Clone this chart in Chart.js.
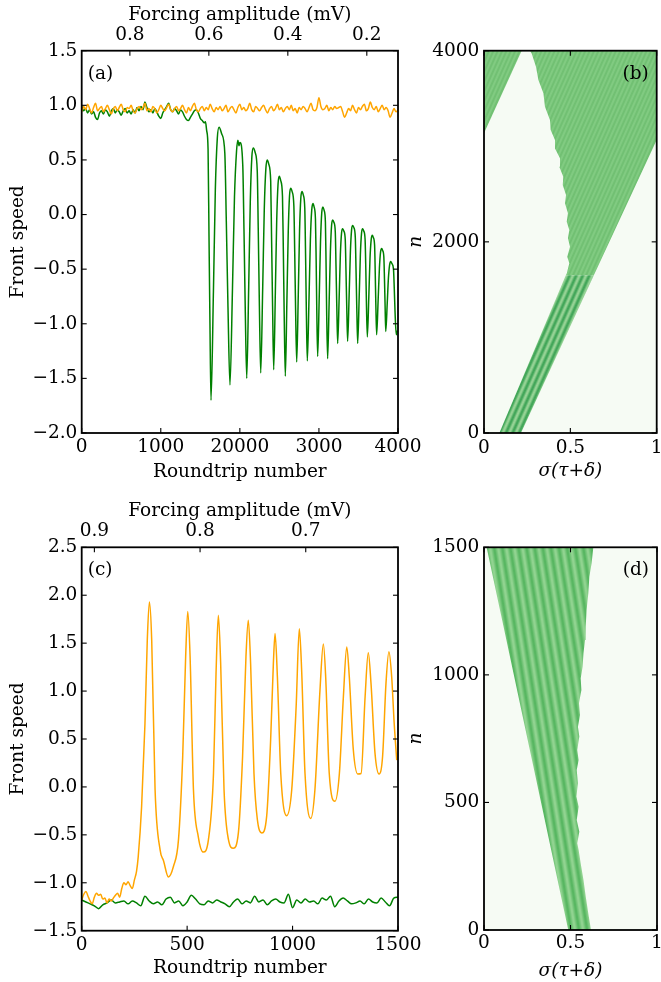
<!DOCTYPE html>
<html>
<head>
<meta charset="utf-8">
<script src="https://cdn.jsdelivr.net/npm/chart.js@4.4.1/dist/chart.umd.min.js"></script>
<style>
  html, body { margin: 0; padding: 0; background: #fff; overflow: hidden; width: 661px; height: 982px; }
  canvas { position: absolute; }
</style>
</head>
<body>
<canvas id="cvA" width="430" height="490" style="left:0;top:0"></canvas>
<canvas id="cvB" width="270" height="490" style="left:400px;top:0"></canvas>
<canvas id="cvC" width="430" height="492" style="left:0;top:490px"></canvas>
<canvas id="cvD" width="270" height="492" style="left:400px;top:490px"></canvas>
<script>
// ---------- panel (a): front speed vs roundtrip ----------
const aOrangeRound = [
  0,25,50,75,100,125,150,175,200,225,
  250,275,300,325,350,375,400,425,450,475,
  500,525,550,575,600,625,650,675,700,725,
  750,775,800,825,850,875,900,925,950,975,
  1000,1025,1050,1075,1100,1125,1150,1175,1200,1225,
  1250,1275,1300,1325,1350,1375,1400,1425,1450,1475,
  1500,1525,1550,1575,1600,1625,1650,1675,1700,1725,
  1750,1775,1800,1825,1850,1875,1900,1925,1950,1975,
  2000,2025,2050,2075,2100,2125,2150,2175,2200,2225,
  2250,2275,2300,2325,2350,2375,2400,2425,2450,2475,
  2500,2525,2550,2575,2600,2625,2650,2675,2700,2725,
  2750,2775,2800,2825,2850,2875,2900,2925,2950,2975,
  3000,3025,3050,3075,3100,3125,3150,3175,3200,3225,
  3250,3275,3300,3325,3350,3375,3400,3425,3450,3475,
  3500,3525,3550,3575,3600,3625,3650,3675,3700,3725,
  3750,3775,3800,3825,3850,3875,3900,3925,3950,3975,4000
];
const aOrangeSpeed = [
  0.94,0.99,0.96,1.01,0.97,0.93,0.98,1.02,0.95,0.97,
  0.99,0.94,0.97,1.00,0.96,0.92,0.97,0.99,0.95,0.98,
  1.01,0.96,0.94,0.98,0.97,1.00,0.95,0.93,0.97,0.99,
  0.96,0.98,1.02,0.95,0.97,0.94,0.99,0.97,0.93,0.96,
  1.00,0.97,0.95,0.98,1.01,0.96,0.94,0.97,0.99,0.95,
  0.97,1.00,0.96,0.93,0.98,0.95,0.99,1.02,0.96,0.94,
  0.97,0.99,0.95,0.98,0.96,1.01,0.97,0.94,0.98,0.96,
  0.99,0.95,0.97,1.00,0.94,0.97,0.99,0.96,0.93,0.98,
  1.01,0.96,0.98,0.95,0.97,1.02,0.96,0.94,0.99,0.97,
  0.95,0.98,1.00,0.96,0.93,0.97,0.99,0.95,0.97,1.01,
  0.96,0.98,0.94,0.97,0.99,0.96,1.00,0.95,0.97,0.93,
  0.98,0.96,0.99,0.97,0.94,0.98,1.02,0.96,0.95,0.98,
  1.07,0.99,0.96,0.97,1.00,0.95,0.98,0.96,0.99,0.97,
  0.98,0.99,0.94,0.89,0.93,0.97,0.95,1.00,0.96,0.93,
  0.98,0.96,0.99,1.01,0.95,0.97,1.03,0.98,0.96,0.99,
  0.94,0.97,1.00,0.96,0.98,0.95,0.89,0.93,0.97,0.94,0.96
];
const aGreenRound = [
  0,25,50,75,100,125,150,175,200,225,250,275,300,325,350,375,400,425,450,475,
  500,525,550,575,600,625,650,675,700,725,750,775,800,825,850,875,900,925,950,975,
  1000,1025,1050,1075,1100,1125,1150,1175,1200,1225,1250,1275,1300,1325,1350,1375,
  1400,1425,1450,1475,1500,1525,1550,1565,1580,1598,1610,1622,1635,
  1666,1690,1715,1737,1770,1810,1829,1850,1875,
  1907,1932,1958,1975,1989,2001,2037,2052,2068,2087,
  2112,2132,2152,2170,2193,2220,2233,2247,2264,
  2289,2309,2329,2347,2366,2390,2401,2414,2428,
  2449,2466,2483,2499,2517,2539,2550,2561,2575,
  2595,2612,2628,2643,2661,2683,2694,2705,2719,
  2739,2755,2771,2786,2802,2821,2831,2841,2853,
  2875,2892,2909,2925,2939,2956,2965,2973,2984,
  3004,3020,3036,3051,3065,3082,3090,3098,3110,
  3129,3145,3160,3174,3189,3207,3216,3226,3237,
  3256,3271,3286,3300,3315,3333,3342,3352,3363,
  3382,3398,3413,3427,3442,3460,3469,3479,3490,
  3509,3524,3539,3553,3567,3584,3593,3601,3612,
  3631,3646,3661,3675,3688,3704,3712,3720,3730,
  3749,3765,3780,3794,3806,3821,3829,3837,3845,
  3864,3879,3894,3908,3924,3943,3953,3963,3978,3988
];
const aGreenSpeed = [
  0.99,0.95,0.97,0.93,0.96,0.92,0.94,0.89,0.87,0.93,0.95,0.92,0.96,0.94,0.90,0.95,0.97,0.93,0.96,0.94,
  0.91,0.95,0.97,0.93,0.95,0.92,0.96,0.93,0.98,0.95,0.99,0.96,1.03,0.98,0.94,0.96,0.93,0.97,0.94,0.90,
  0.88,0.93,0.96,0.99,1.02,0.96,0.94,0.97,0.95,0.92,0.96,0.94,0.90,0.87,0.86,0.89,
  0.92,0.95,0.96,0.93,0.88,0.86,0.84,0.85,0.77,0.60,-0.20,-1.00,-1.70,
  -0.70,0.23,0.70,0.80,0.74,0.56,-0.07,-0.85,-1.56,
  -0.67,0.16,0.58,0.68,0.63,0.66,0.45,-0.13,-0.85,-1.50,
  -0.66,0.12,0.53,0.61,0.57,0.40,-0.15,-0.83,-1.45,
  -0.67,0.05,0.42,0.50,0.46,0.31,-0.21,-0.84,-1.42,
  -0.71,-0.06,0.28,0.35,0.31,0.17,-0.33,-0.93,-1.48,
  -0.79,-0.16,0.17,0.24,0.21,0.08,-0.35,-0.87,-1.35,
  -0.73,-0.15,0.15,0.21,0.18,0.06,-0.36,-0.88,-1.34,
  -0.76,-0.23,0.04,0.10,0.07,-0.04,-0.42,-0.88,-1.30,
  -0.75,-0.25,0.02,0.07,0.04,-0.07,-0.44,-0.90,-1.32,
  -0.81,-0.34,-0.10,-0.05,-0.07,-0.16,-0.47,-0.84,-1.18,
  -0.76,-0.37,-0.17,-0.13,-0.15,-0.23,-0.51,-0.85,-1.16,
  -0.74,-0.34,-0.14,-0.10,-0.12,-0.21,-0.50,-0.86,-1.18,
  -0.76,-0.37,-0.17,-0.13,-0.15,-0.23,-0.50,-0.82,-1.12,
  -0.75,-0.40,-0.23,-0.19,-0.21,-0.28,-0.53,-0.83,-1.10,
  -0.78,-0.49,-0.34,-0.31,-0.33,-0.39,-0.59,-0.84,-1.07,
  -0.81,-0.58,-0.46,-0.43,-0.45,-0.50,-0.68,-0.90,-1.10,-1.06
];
const aSpeedTicks = [-2, -1.5, -1, -0.5, 0, 0.5, 1, 1.5];
const aSpeedLabels = ['−2.0', '−1.5', '−1.0', '−0.5', '0.0', '0.5', '1.0', '1.5'];
const aRoundTicks = [0, 1000, 2000, 3000, 4000];
const aRoundLabels = ['0', '1000', '20000', '3000', '4000'];
const aForceTicks = [0.8, 0.6, 0.4, 0.2];
const aForceLabels = ['0.8', '0.6', '0.4', '0.2'];

// ---------- panel (b): space-time outline of the green region ----------
const bLowerPos = [0.089, 0.474, 0.636, 0.214];
const bLowerRound = [0, 1650, 1650, 0];
const bUpperPos = [0.474, 0.479, 0.494, 0.482, 0.498, 0.486, 0.494, 0.479, 0.486, 0.469, 0.475, 0.456, 0.459,
  0.436, 0.440, 0.411, 0.411, 0.386, 0.382, 0.353, 0.344, 0.315, 0.301, 0.276, 0.266, 1, 1, 0.636];
const bUpperRound = [1650, 1670, 1775, 1845, 1950, 2037, 2124, 2211, 2298, 2403, 2490, 2595, 2682,
  2787, 2874, 2978, 3066, 3170, 3275, 3414, 3554, 3693, 3833, 3972, 4000, 4000, 3065, 1650];
const bWrapPos = [0, 0.218, 0];
const bWrapRound = [3136, 4000, 4000];
const bPosTicks = [0, 0.5, 1];
const bPosLabels = ['0', '0.5', '1'];
const bRoundTicks = [0, 2000, 4000];
const bRoundLabels = ['0', '2000', '4000'];

// ---------- panel (c) ----------
const cOrangeRound = [
  0,10,20,30,40,50,60,70,80,90,100,110,120,130,140,150,160,170,180,190,200,210,220,230,240,250,260,
  268,284,300,311,321,332,348,372,388,411,
  435,459,479,493,503,514,530,553,577,601,
  625,637,648,659,675,696,719,743,763,779,
  790,801,817,833,854,877,896,909,917,928,
  944,972,996,1017,1032,1043,1059,1086,1106,1130,
  1146,1157,1174,1201,1222,1241,1257,1269,1288,1309,
  1325,1344,1359,1372,1391,1410,1427,1443,1457,1470,
  1482,1494
];
const cOrangeSpeed = [
  -1.18,-1.12,-1.09,-1.14,-1.19,-1.22,-1.15,-1.11,-1.13,-1.12,-1.17,-1.16,-1.21,-1.17,-1.19,-1.16,
  -1.13,-1.11,-1.15,-1.06,-1.00,-1.02,-0.99,-1.03,-1.06,-0.97,-0.88,
  -0.73,-0.21,0.66,1.53,1.93,1.53,-0.03,-0.66,-0.77,-0.94,
  -0.83,-0.55,0.32,1.36,1.83,1.36,-0.03,-0.52,-0.68,-0.55,
  0.14,1.18,1.79,1.29,-0.03,-0.55,-0.64,-0.48,0.32,1.36,
  1.74,1.29,0.14,-0.34,-0.48,-0.31,0.49,1.29,1.60,1.15,
  0.14,-0.30,-0.03,0.84,1.65,1.22,0.14,-0.33,-0.03,1.01,
  1.49,1.15,0.14,-0.15,0.14,0.94,1.46,1.15,0.39,0.135,
  0.14,0.94,1.40,1.08,0.35,0.135,0.32,1.08,1.41,1.15,
  0.66,0.28
];
const cGreenRound = [
  0,20,40,60,80,100,120,140,160,180,200,220,240,260,280,300,320,340,360,380,
  400,420,440,460,480,500,520,540,560,580,600,620,640,660,680,700,720,740,760,780,
  800,820,840,860,880,900,920,940,960,980,1000,1020,1040,1060,1080,1100,1120,1140,1160,1180,
  1200,1220,1240,1260,1280,1300,1320,1340,1360,1380,1400,1420,1440,1460,1480,1500
];
const cGreenSpeed = [
  -1.18,-1.20,-1.22,-1.24,-1.27,-1.23,-1.21,-1.18,-1.21,-1.20,-1.19,-1.22,-1.19,-1.21,-1.24,-1.14,-1.19,-1.22,-1.20,-1.23,
  -1.17,-1.15,-1.21,-1.19,-1.24,-1.20,-1.13,-1.17,-1.22,-1.23,-1.19,-1.21,-1.18,-1.20,-1.22,-1.25,-1.20,-1.17,-1.22,-1.19,
  -1.21,-1.14,-1.20,-1.18,-1.23,-1.19,-1.17,-1.20,-1.21,-1.12,-1.26,-1.18,-1.21,-1.17,-1.20,-1.19,-1.22,-1.16,-1.18,-1.14,
  -1.25,-1.19,-1.16,-1.19,-1.22,-1.21,-1.19,-1.22,-1.17,-1.20,-1.21,-1.16,-1.20,-1.24,-1.16,-1.15
];
const cSpeedTicks = [-1.5, -1, -0.5, 0, 0.5, 1, 1.5, 2, 2.5];
const cSpeedLabels = ['−1.5', '−1.0', '−0.5', '0.0', '0.5', '1.0', '1.5', '2.0', '2.5'];
const cRoundTicks = [0, 500, 1000, 1500];
const cRoundLabels = ['0', '500', '1000', '1500'];
const cForceTicks = [0.9, 0.8, 0.7];
const cForceLabels = ['0.9', '0.8', '0.7'];

// ---------- panel (d) ----------
const dPos = [0.487, 0.6185, 0.603, 0.588, 0.575, 0.559, 0.547, 0.539, 0.551, 0.536, 0.547, 0.534, 0.543,
  0.536, 0.547, 0.539, 0.551, 0.543, 0.555, 0.549, 0.563, 0.559, 0.570, 0.575, 0.584, 0.588, 0.593,
  0.603, 0.609, 0.622, 0.632, 0.015];
const dRound = [0, 0, 65, 131, 196, 261, 314, 340, 385, 431, 483, 523, 575,
  627, 666, 706, 758, 797, 843, 889, 941, 987, 1032, 1085, 1137, 1189, 1254,
  1320, 1385, 1437, 1500, 1500];
const dRoundTicks = [0, 500, 1000, 1500];
const dRoundLabels = ['0', '500', '1000', '1500'];

const GREEN = '#008000';
const ORANGE = '#ffa500';
const FIELD = '#f6fbf4';
const FONT_SIZE = 18.5;

Chart.defaults.font.family = 'DejaVu Serif';
Chart.defaults.font.size = FONT_SIZE;
Chart.defaults.color = '#000';

// soft diagonal stripes used to fill the green regions
function stripes(period, light, dark, angle) {
  const tile = document.createElement('canvas');
  tile.width = period;
  tile.height = 4;
  const g = tile.getContext('2d');
  const grad = g.createLinearGradient(0, 0, period, 0);
  grad.addColorStop(0, light);
  grad.addColorStop(0.5, dark);
  grad.addColorStop(1, light);
  g.fillStyle = grad;
  g.fillRect(0, 0, period, 4);
  const pat = g.createPattern(tile, 'repeat');
  pat.setTransform(new DOMMatrix().rotate(angle));
  return pat;
}

// frame, inward tick marks, panel tag and heatmap background
const framePlugin = {
  id: 'frame',
  beforeDatasetsDraw(chart, args, opts) {
    if (!opts.field) return;
    const a = chart.chartArea;
    chart.ctx.save();
    chart.ctx.fillStyle = opts.field;
    chart.ctx.fillRect(a.left, a.top, a.right - a.left, a.bottom - a.top);
    chart.ctx.restore();
  },
  afterDatasetsDraw(chart, args, opts) {
    const {ctx, chartArea: a} = chart;
    const L = 5;
    ctx.save();
    ctx.strokeStyle = '#000';
    ctx.lineWidth = 1.1;
    Object.keys(opts.marks || {}).forEach(id => {
      const s = chart.scales[id];
      opts.marks[id].forEach(side => {
        s.ticks.forEach(t => {
          const p = s.getPixelForValue(t.value);
          ctx.beginPath();
          if (side === 'bottom') { ctx.moveTo(p, a.bottom); ctx.lineTo(p, a.bottom - L); }
          if (side === 'top') { ctx.moveTo(p, a.top); ctx.lineTo(p, a.top + L); }
          if (side === 'left') { ctx.moveTo(a.left, p); ctx.lineTo(a.left + L, p); }
          if (side === 'right') { ctx.moveTo(a.right, p); ctx.lineTo(a.right - L, p); }
          ctx.stroke();
        });
      });
    });
    ctx.lineWidth = 1.8;
    ctx.strokeRect(a.left, a.top, a.right - a.left, a.bottom - a.top);
    ctx.fillStyle = '#000';
    ctx.font = FONT_SIZE + 'px "DejaVu Serif"';
    ctx.textBaseline = 'middle';
    if (opts.tagSide === 'left') {
      ctx.textAlign = 'left';
      ctx.fillText(opts.tag, a.left + 6, a.top + 23);
    } else {
      ctx.textAlign = 'right';
      ctx.fillText(opts.tag, a.right - 8, a.top + 23);
    }
    ctx.restore();
  }
};

function axis(o) {
  const cfg = {
    type: 'linear',
    position: o.position,
    min: o.min,
    max: o.max,
    reverse: !!o.reverse,
    afterFit(s) {
      if (o.position === 'left') s.width = o.size; else s.height = o.size;
    },
    afterBuildTicks(s) {
      s.ticks = o.ticks.map(v => ({value: v}));
    },
    grid: {display: false, drawTicks: false},
    border: {display: false},
    ticks: {autoSkip: false, maxRotation: 0, padding: o.pad, callback: (v, i) => o.labels[i]},
    title: {display: true, text: o.title, padding: o.titlePad}
  };
  if (o.italic) cfg.title.font = {style: 'italic'};
  return cfg;
}

function trace(xs, ys, color) {
  return {
    data: xs.map((x, i) => ({x: x, y: ys[i]})),
    borderColor: color,
    borderWidth: 1.5,
    pointRadius: 0,
    fill: false,
    cubicInterpolationMode: 'monotone'
  };
}

function patch(xs, ys, pattern) {
  return {
    data: xs.map((x, i) => ({x: x, y: ys[i]})),
    borderColor: 'rgba(0,0,0,0)',
    borderWidth: 1,
    backgroundColor: pattern,
    pointRadius: 0,
    fill: 'shape',
    tension: 0
  };
}

function baseOptions(padding, scales, frame) {
  return {
    responsive: false,
    animation: false,
    devicePixelRatio: 1,
    events: [],
    layout: {padding: padding},
    plugins: {legend: {display: false}, tooltip: {enabled: false}, frame: frame},
    scales: scales
  };
}

// (a)
new Chart(document.getElementById('cvA'), {
  type: 'line',
  data: {datasets: [
    trace(aOrangeRound, aOrangeSpeed, ORANGE),
    trace(aGreenRound, aGreenSpeed, GREEN)
  ]},
  options: baseOptions({left: 0, right: 32, top: 0, bottom: 0}, {
    x: axis({position: 'bottom', min: 0, max: 4000, ticks: aRoundTicks, labels: aRoundLabels, size: 57, pad: 3.1,
      title: 'Roundtrip number', titlePad: {top: 0, bottom: 6.9}}),
    x2: axis({position: 'top', min: 0.121, max: 0.922, reverse: true, ticks: aForceTicks, labels: aForceLabels,
      size: 50.7, pad: 4.6, title: 'Forcing amplitude (mV)', titlePad: {top: 3.9, bottom: 0}}),
    y: axis({position: 'left', min: -2, max: 1.5, ticks: aSpeedTicks, labels: aSpeedLabels, size: 81.7, pad: 4.4,
      title: 'Front speed', titlePad: {top: 6.9, bottom: 0}})
  }, {marks: {x: ['bottom'], x2: ['top'], y: ['left', 'right']}, tag: '(a)', tagSide: 'left'}),
  plugins: [framePlugin]
});

// (b)
new Chart(document.getElementById('cvB'), {
  type: 'line',
  data: {datasets: [
    patch(bLowerPos, bLowerRound, stripes(6, '#a9dda3', '#2f9c4b', 24)),
    patch(bUpperPos, bUpperRound, stripes(4, '#88d088', '#6abb6c', 24)),
    patch(bWrapPos, bWrapRound, stripes(4, '#88d088', '#6abb6c', 24))
  ]},
  options: baseOptions({left: 0, right: 13.3, top: 50.7, bottom: 0}, {
    x: axis({position: 'bottom', min: 0, max: 1, ticks: bPosTicks, labels: bPosLabels, size: 57, pad: 3.6,
      title: 'σ(τ+δ)', italic: true, titlePad: {top: 0, bottom: 7.9}}),
    y: axis({position: 'left', min: 0, max: 4000, ticks: bRoundTicks, labels: bRoundLabels, size: 84, pad: 4.7,
      title: 'n', italic: true, titlePad: {top: 4.9, bottom: 0}})
  }, {field: FIELD, marks: {x: ['bottom', 'top'], y: ['left', 'right']}, tag: '(b)', tagSide: 'right'}),
  plugins: [framePlugin]
});

// (c)
new Chart(document.getElementById('cvC'), {
  type: 'line',
  data: {datasets: [
    trace(cOrangeRound, cOrangeSpeed, ORANGE),
    trace(cGreenRound, cGreenSpeed, GREEN)
  ]},
  options: baseOptions({left: 0, right: 32, top: 0, bottom: 0}, {
    x: axis({position: 'bottom', min: 0, max: 1500, ticks: cRoundTicks, labels: cRoundLabels, size: 51.3, pad: 3.1,
      title: 'Roundtrip number', titlePad: {top: 0, bottom: 2.9}}),
    x2: axis({position: 'top', min: 0.6127, max: 0.912, reverse: true, ticks: cForceTicks, labels: cForceLabels,
      size: 57.3, pad: 4.6, title: 'Forcing amplitude (mV)', titlePad: {top: 10.4, bottom: 0}}),
    y: axis({position: 'left', min: -1.5, max: 2.5, ticks: cSpeedTicks, labels: cSpeedLabels, size: 81.7, pad: 4.4,
      title: 'Front speed', titlePad: {top: 6.9, bottom: 0}})
  }, {marks: {x: ['bottom'], x2: ['top'], y: ['left', 'right']}, tag: '(c)', tagSide: 'left'}),
  plugins: [framePlugin]
});

// (d)
new Chart(document.getElementById('cvD'), {
  type: 'line',
  data: {datasets: [
    patch(dPos, dRound, stripes(8, '#9ad898', '#4fb25a', -9))
  ]},
  options: baseOptions({left: 0, right: 13, top: 57.3, bottom: 0}, {
    x: axis({position: 'bottom', min: 0, max: 1, ticks: bPosTicks, labels: bPosLabels, size: 52, pad: 2.1,
      title: 'σ(τ+δ)', italic: true, titlePad: {top: 0, bottom: 0}}),
    y: axis({position: 'left', min: 0, max: 1500, ticks: dRoundTicks, labels: dRoundLabels, size: 84, pad: 4.7,
      title: 'n', italic: true, titlePad: {top: 4.9, bottom: 0}})
  }, {field: FIELD, marks: {x: ['bottom', 'top'], y: ['left', 'right']}, tag: '(d)', tagSide: 'right'}),
  plugins: [framePlugin]
});
</script>
</body>
</html>
